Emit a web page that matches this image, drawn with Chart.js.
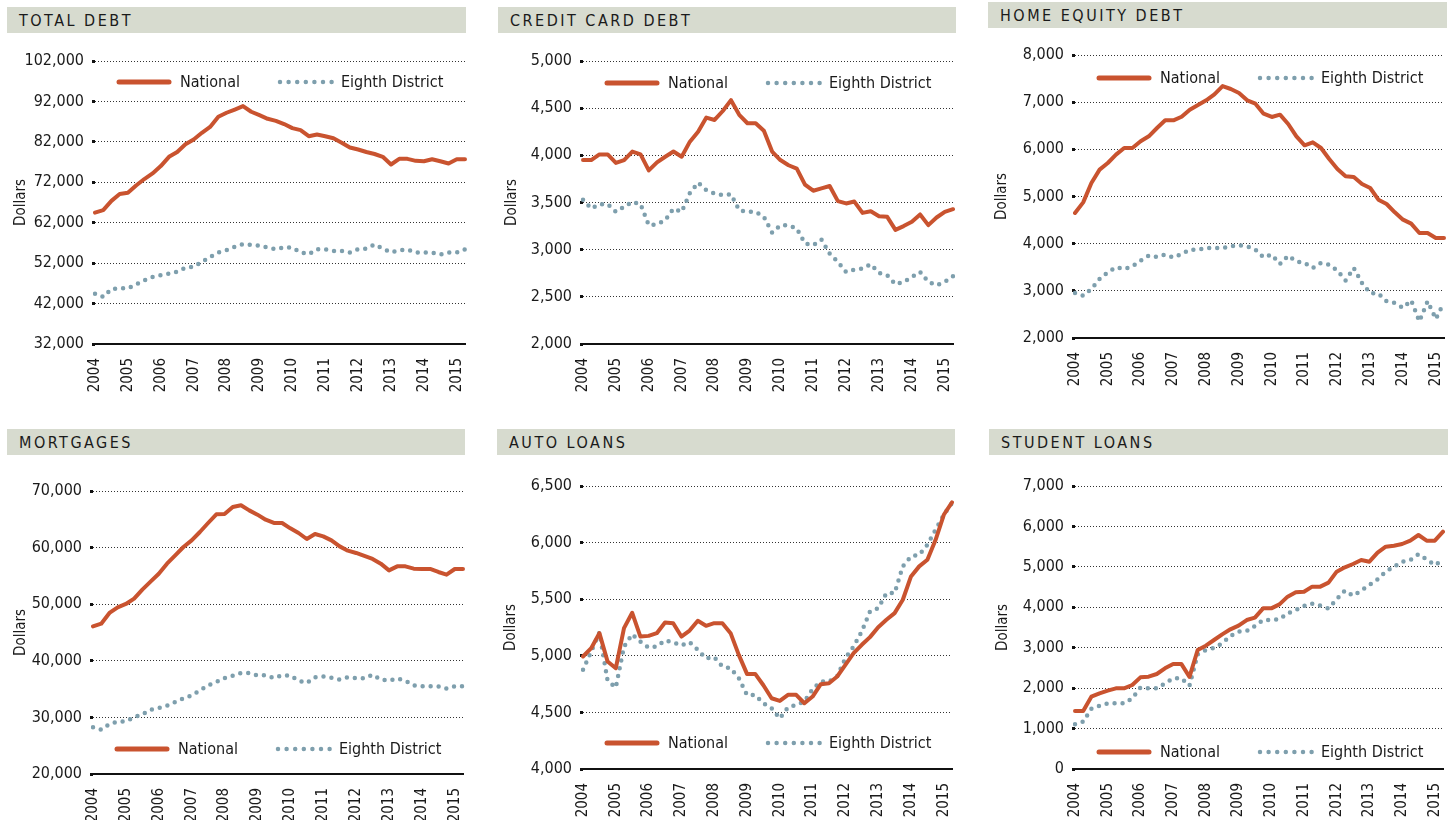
<!DOCTYPE html>
<html>
<head>
<meta charset="utf-8">
<script src="https://cdn.jsdelivr.net/npm/chart.js@4.4.1/dist/chart.umd.min.js"></script>
<style>
  body { margin: 0; background: #fff; width: 1456px; height: 820px; position: relative; overflow: hidden; }
  .hdr {
    position: absolute; height: 26px; background: #d7dbcf; color: #1a1a1a;
    font-family: 'DejaVu Sans Condensed', 'DejaVu Sans', sans-serif; font-size: 16px;
    letter-spacing: 2.5px; line-height: 27px; padding-left: 12px; box-sizing: border-box;
  }
  .cv { position: absolute; }
</style>
</head>
<body>
<script>
// quarterly observations, 2004 Q1 .. 2015 Q2
const years = ['2004', '2005', '2006', '2007', '2008', '2009', '2010', '2011', '2012', '2013', '2014', '2015'];
const quarters = years.flatMap(y => ['Q1', 'Q2', 'Q3', 'Q4'].map(q => y + ' ' + q)).slice(0, 46);

const totalNational = [64500, 65100, 67400, 69100, 69400, 71200, 72800, 74200, 76000, 78300,
  79500, 81400, 82600, 84250, 85700, 88200, 89200, 90000, 90850, 89450,
  88600, 87700, 87200, 86400, 85400, 84900, 83400, 83800, 83400, 82900,
  81800, 80600, 80100, 79500, 79000, 78300, 76400, 77800, 77800, 77300,
  77200, 77700, 77200, 76650, 77700, 77700];
const totalDistrict = [44460, 43640, 45620, 45780, 45780, 46770, 47760, 48590, 49000, 49420,
  49910, 50900, 51070, 52300, 53540, 54620, 55200, 56020, 56680, 56500,
  56350, 55850, 55440, 55940, 55850, 54700, 54200, 55440, 55440, 55030,
  55030, 54620, 55440, 55600, 56600, 55600, 54700, 55200, 55350, 54620,
  54620, 54620, 54120, 54620, 54620, 55440];

const creditNational = [3950, 3950, 4010, 4010, 3920, 3950, 4040, 4010, 3840, 3925,
  3985, 4040, 3985, 4145, 4250, 4400, 4375, 4470, 4585, 4430,
  4340, 4340, 4260, 4040, 3950, 3895, 3860, 3690, 3625, 3650,
  3675, 3515, 3490, 3510, 3390, 3408, 3355, 3348, 3210, 3250,
  3295, 3373, 3260, 3341, 3401, 3429];
const creditDistrict = [3530, 3436, 3482, 3482, 3401, 3454, 3507, 3482, 3259, 3270,
  3312, 3436, 3401, 3600, 3710, 3631, 3595, 3578, 3588, 3418,
  3401, 3401, 3348, 3181, 3259, 3259, 3224, 3065, 3047, 3107,
  2958, 2870, 2764, 2789, 2799, 2845, 2753, 2729, 2633, 2658,
  2711, 2764, 2658, 2622, 2658, 2718];

const homeNational = [4650, 4876, 5286, 5569, 5710, 5887, 6028, 6028, 6170, 6276,
  6452, 6615, 6615, 6690, 6841, 6940, 7039, 7166, 7340, 7279,
  7194, 7039, 6968, 6756, 6686, 6735, 6537, 6276, 6085, 6148,
  6028, 5795, 5583, 5428, 5413, 5265, 5180, 4933, 4841, 4664,
  4509, 4424, 4226, 4226, 4120, 4120];
const homeDistrict = [2954, 2898, 3039, 3251, 3392, 3498, 3463, 3520, 3640, 3746,
  3717, 3767, 3710, 3781, 3873, 3873, 3908, 3908, 3908, 3944,
  3965, 3944, 3873, 3710, 3767, 3569, 3746, 3626, 3590, 3484,
  3590, 3555, 3430, 3220, 3484, 3166, 2954, 2940, 2778, 2742,
  2640, 2799, 2353, 2778, 2403, 2756];

const mortNational = [46090, 46560, 48450, 49450, 50040, 50980, 52570, 53980, 55390, 57160,
  58630, 60110, 61280, 62760, 64350, 65880, 65940, 67170, 67470, 66580,
  65820, 64930, 64350, 64350, 63400, 62580, 61520, 62400, 61990, 61280,
  60220, 59460, 59050, 58520, 57990, 57160, 55980, 56690, 56690, 56280,
  56220, 56220, 55690, 55220, 56220, 56220];
const mortDistrict = [28250, 27840, 28840, 29250, 29310, 30010, 30540, 31370, 31660, 32080,
  32720, 33370, 33900, 34780, 35670, 36260, 36960, 37370, 37850, 37850,
  37430, 37430, 36960, 37430, 37370, 36490, 36080, 37080, 37250, 37020,
  36670, 37080, 36960, 36900, 37550, 36670, 36490, 36900, 36490, 35670,
  35490, 35490, 35490, 35080, 35490, 35490];

const autoNational = [4994, 5067, 5200, 4949, 4890, 5244, 5380, 5170, 5176, 5200,
  5294, 5288, 5170, 5223, 5309, 5265, 5288, 5288, 5200, 5008,
  4840, 4840, 4740, 4625, 4601, 4655, 4655, 4581, 4640, 4749,
  4758, 4817, 4920, 5023, 5097, 5165, 5253, 5318, 5377, 5495,
  5701, 5790, 5849, 6025, 6246, 6356];
const autoDistrict = [4876, 5038, 5206, 4780, 4720, 5080, 5190, 5126, 5073, 5082,
  5135, 5120, 5091, 5120, 5053, 4976, 4988, 4905, 4890, 4802,
  4654, 4654, 4581, 4537, 4448, 4545, 4566, 4596, 4705, 4772,
  4772, 4820, 4979, 5082, 5215, 5392, 5421, 5554, 5554, 5790,
  5878, 5893, 5981, 6114, 6246, 6350];

const studentNational = [1435, 1435, 1789, 1872, 1938, 1995, 1995, 2078, 2267, 2284,
  2350, 2490, 2597, 2600, 2280, 2944, 3051, 3191, 3331, 3455,
  3545, 3685, 3743, 3974, 3974, 4073, 4263, 4370, 4386, 4510,
  4510, 4609, 4881, 4988, 5071, 5170, 5128, 5351, 5499, 5524,
  5565, 5648, 5788, 5648, 5648, 5870];
const studentDistrict = [1105, 1171, 1492, 1566, 1624, 1624, 1624, 1748, 2012, 1995,
  1995, 2119, 2243, 2243, 2061, 2836, 2944, 2993, 3108, 3290,
  3397, 3413, 3537, 3685, 3685, 3702, 3850, 3933, 4032, 4090,
  4040, 3970, 4200, 4411, 4287, 4411, 4551, 4691, 4881, 5005,
  5128, 5170, 5310, 5186, 5046, 5170];

const seriesNames = ['National', 'Eighth District'];
const RED = '#c9532f';
const BLUE = '#7e9fad';
const FONT = "'DejaVu Sans Condensed', 'Liberation Sans', sans-serif";

const panels = [
  { title: 'TOTAL DEBT', hx: 7, hy: 7, hw: 459, left: 95, right: 465, top: 61, bottom: 344,
    min: 32000, max: 102000, step: 10000, nat: totalNational, dist: totalDistrict, legTop: true, legOff: 21 },
  { title: 'CREDIT CARD DEBT', hx: 498, hy: 7, hw: 458, left: 583, right: 953, top: 61, bottom: 344,
    min: 2000, max: 5000, step: 500, nat: creditNational, dist: creditDistrict, legTop: true, legOff: 22 },
  { title: 'HOME EQUITY DEBT', hx: 988, hy: 2, hw: 459, left: 1075, right: 1444, top: 55, bottom: 338,
    min: 2000, max: 8000, step: 1000, nat: homeNational, dist: homeDistrict, legTop: true, legOff: 23 },
  { title: 'MORTGAGES', hx: 7, hy: 429, hw: 458, left: 93, right: 463, top: 491, bottom: 774,
    min: 20000, max: 70000, step: 10000, nat: mortNational, dist: mortDistrict, legTop: false, legOff: 25 },
  { title: 'AUTO LOANS', hx: 497, hy: 429, hw: 458, left: 583, right: 952, top: 486, bottom: 769,
    min: 4000, max: 6500, step: 500, nat: autoNational, dist: autoDistrict, legTop: false, legOff: 26 },
  { title: 'STUDENT LOANS', hx: 989, hy: 429, hw: 459, left: 1075, right: 1443, top: 486, bottom: 769,
    min: 0, max: 7000, step: 1000, nat: studentNational, dist: studentDistrict, legTop: false, legOff: 17 }
];

// legend drawn inside the plot area, as in the print layout
const insideLegend = {
  id: 'insideLegend',
  afterDatasetsDraw(chart, args, opts) {
    const { ctx, chartArea } = chart;
    const ds = chart.data.datasets;
    const y = opts.atTop ? chartArea.top + opts.offset : chartArea.bottom - opts.offset;
    const x0 = chartArea.left + 21;
    ctx.save();
    ctx.lineCap = 'round';
    ctx.lineWidth = 5;
    ctx.strokeStyle = ds[0].borderColor;
    ctx.beginPath(); ctx.moveTo(x0 + 3, y); ctx.lineTo(x0 + 53, y); ctx.stroke();
    ctx.lineWidth = 4.5;
    ctx.strokeStyle = ds[1].borderColor;
    ctx.setLineDash([0, 8.6]);
    ctx.beginPath(); ctx.moveTo(x0 + 164, y); ctx.lineTo(x0 + 216, y); ctx.stroke();
    ctx.setLineDash([]);
    ctx.fillStyle = '#1a1a1a';
    ctx.font = '16px ' + FONT;
    ctx.textBaseline = 'middle';
    ctx.fillText(ds[0].label, x0 + 64, y + 1);
    ctx.fillText(ds[1].label, x0 + 225, y + 1);
    ctx.restore();
  }
};

panels.forEach(p => {
  const hdr = document.createElement('div');
  hdr.className = 'hdr';
  hdr.textContent = p.title;
  Object.assign(hdr.style, { left: p.hx + 'px', top: p.hy + 'px', width: p.hw + 'px' });
  document.body.appendChild(hdr);

  const padTop = 20, padRight = 10, xHeight = 52;
  const yWidth = p.left - p.hx;
  const wrap = document.createElement('div');
  wrap.className = 'cv';
  const w = p.right - p.hx + padRight;
  const h = p.bottom - p.top + padTop + xHeight;
  Object.assign(wrap.style, { left: p.hx + 'px', top: (p.top - padTop) + 'px', width: w + 'px', height: h + 'px' });
  const canvas = document.createElement('canvas');
  wrap.appendChild(canvas);
  document.body.appendChild(wrap);

  new Chart(canvas, {
    type: 'line',
    data: {
      labels: quarters,
      datasets: [
        { label: seriesNames[0], data: p.nat, borderColor: RED, borderWidth: 4,
          pointRadius: 0, borderJoinStyle: 'round', borderCapStyle: 'round', tension: 0 },
        { label: seriesNames[1], data: p.dist, borderColor: BLUE, borderWidth: 4.5,
          pointRadius: 0, borderDash: [0, 8], borderCapStyle: 'round', tension: 0 }
      ]
    },
    options: {
      responsive: true,
      maintainAspectRatio: false,
      animation: false,
      events: [],
      layout: { padding: { top: padTop, right: padRight, left: 0, bottom: 0 } },
      plugins: {
        legend: { display: false },
        tooltip: { enabled: false },
        insideLegend: { atTop: p.legTop, offset: p.legOff }
      },
      scales: {
        x: {
          grid: { display: false },
          border: { display: true, color: '#111', width: 2 },
          ticks: {
            autoSkip: false, minRotation: 90, maxRotation: 90, padding: 6,
            color: '#1a1a1a', font: { family: FONT, size: 15 },
            callback: function (value) {
              const lab = this.getLabelForValue(value);
              return lab.endsWith('Q1') ? lab.slice(0, 4) : '';
            }
          },
          afterFit: s => { s.height = xHeight; s.paddingLeft = 0; s.paddingRight = 0; }
        },
        y: {
          min: p.min, max: p.max,
          border: { display: false, dash: [1, 2] },
          grid: {
            color: '#333', lineWidth: 1, tickLength: 3, tickWidth: 3, tickColor: '#111'
          },
          ticks: {
            stepSize: p.step, padding: 8, color: '#1a1a1a',
            font: { family: FONT, size: 16 },
            callback: v => v.toLocaleString('en-US')
          },
          title: { display: true, text: 'Dollars', color: '#1a1a1a', padding: { top: 5, bottom: 0 },
                   font: { family: FONT, size: 15 } },
          afterFit: s => { s.width = yWidth; s.paddingTop = 0; s.paddingBottom = 0; }
        }
      }
    },
    plugins: [insideLegend]
  });
});
</script>
</body>
</html>
